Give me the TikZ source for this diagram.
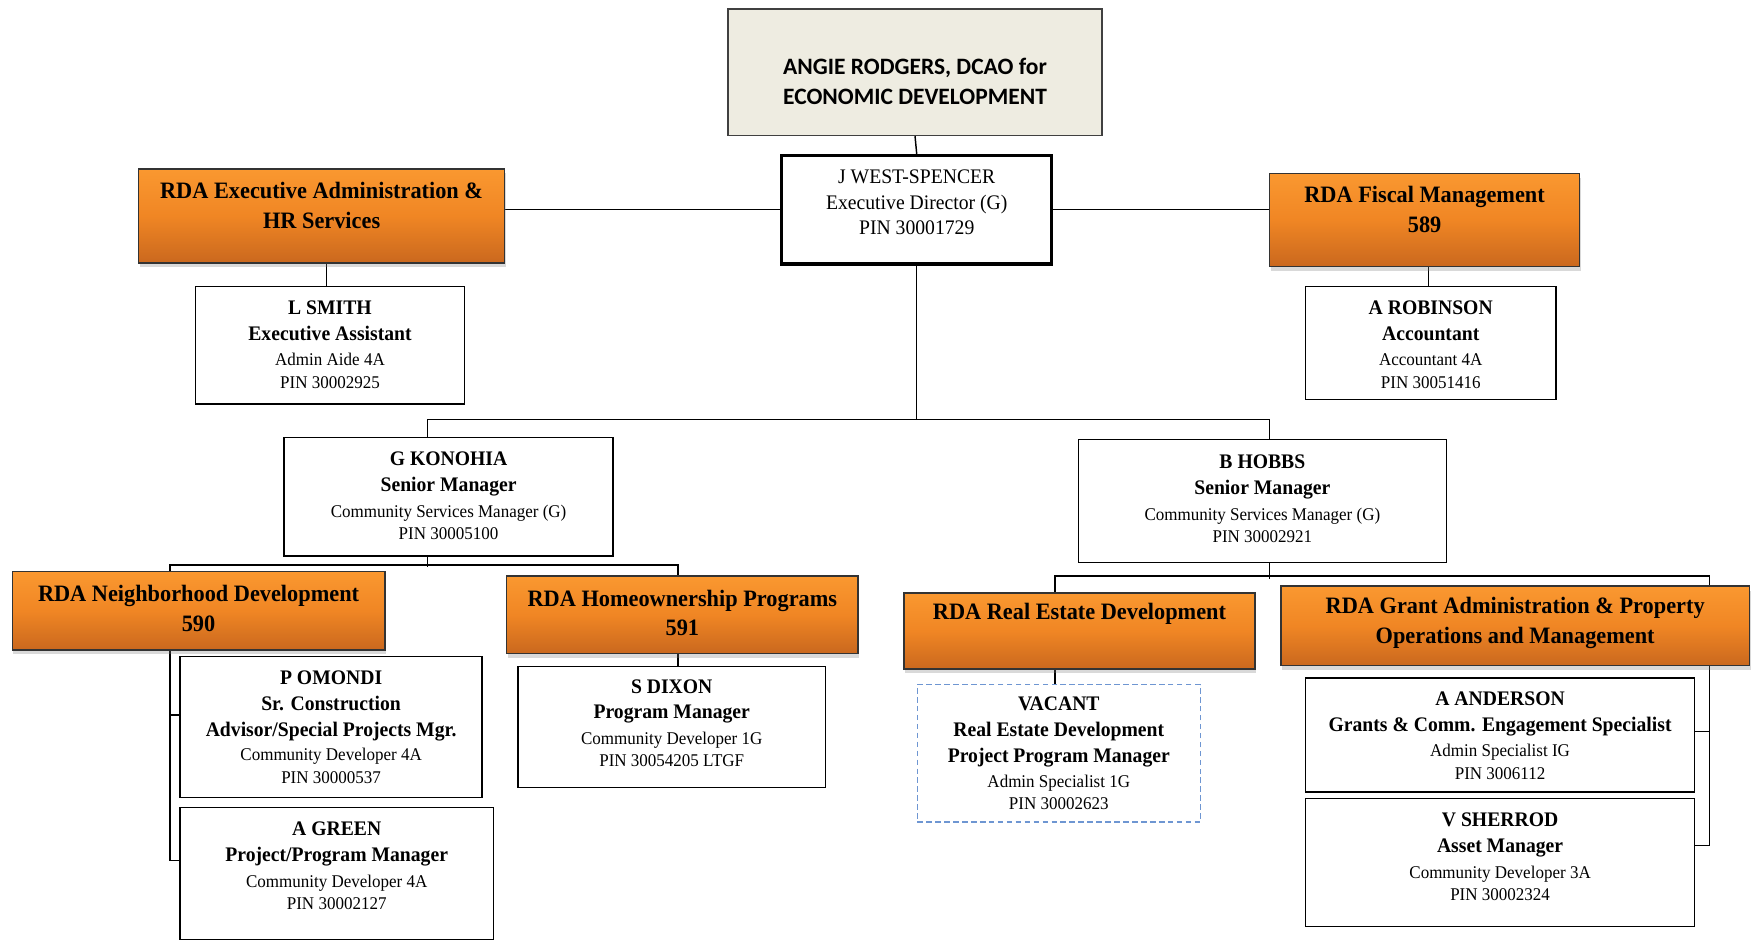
\documentclass[tikz,border=0pt]{standalone}
\usepackage{fontspec}
\setmainfont{Liberation Serif}[UprightFont={Liberation Serif}, BoldFont={Liberation Serif Bold}, ItalicFont={Liberation Serif Italic}, BoldItalicFont={Liberation Serif Bold Italic}, FakeStretch=0.95]
\newfontfamily\calib{Carlito}[BoldFont={Carlito Bold}]
\usetikzlibrary{shadows,backgrounds,calc}
\definecolor{orgtop}{RGB}{250,152,48}
\definecolor{orgmid}{RGB}{240,134,36}
\definecolor{orgbot}{RGB}{202,104,30}
\definecolor{beige}{RGB}{238,236,225}
\definecolor{vacblue}{RGB}{110,150,210}
\newcommand\sml[1]{{\fontsize{16}{20}\selectfont #1}}
\tikzset{
  conn/.style={draw=black, line width=1.3pt},
  wbox/.style={draw=black, line width=1.3pt, fill=white, inner sep=0pt},
  jbox/.style={draw=black, line width=2.8pt, fill=white, inner sep=0pt},
  gbox/.style={draw=black!75, line width=1.5pt, fill=beige, inner sep=0pt},
  vbox/.style={draw=vacblue, line width=1.3pt, dash pattern=on 5pt off 3pt, fill=white, inner sep=0pt},
  obox/.style={draw=black!80, line width=1.3pt, inner sep=0pt, top color=orgtop, bottom color=orgbot, middle color=orgmid,
     drop shadow={opacity=0.3, shadow xshift=1pt, shadow yshift=-4pt}},
  ptxt/.style={align=center, inner sep=0pt, font=\fontsize{18.5}{23}\selectfont},
  otxt/.style={align=center, inner sep=0pt, font=\fontsize{21}{26.5}\selectfont\bfseries},
  atxt/.style={align=center, inner sep=0pt, font=\calib\fontsize{21}{27}\selectfont\bfseries},
}
\begin{document}
\begin{tikzpicture}[x=1pt,y=-1pt]
\useasboundingbox (0,0) rectangle (1568,847);

% boxes
\node[gbox, minimum width=334pt, minimum height=113pt] (angie) at (818,64.5) {};
\node[atxt] (angiet) at (818,72.5) {ANGIE RODGERS, DCAO for\\ECONOMIC DEVELOPMENT};

\node[jbox, minimum width=241pt, minimum height=97pt] (jws) at (819.5,187.5) {};
\node[ptxt] (jwst) at (819.5,181) {J WEST-SPENCER\\Executive Director (G)\\PIN 30001729};

\node[obox, minimum width=327pt, minimum height=84pt] (exec) at (287.5,193) {};
\node[otxt] (exect) at (287.5,183.5) {RDA Executive Administration \&\\HR Services};

\node[obox, minimum width=277pt, minimum height=83pt] (fisc) at (1273.5,196.5) {};
\node[otxt] (fisct) at (1273.5,187.5) {RDA Fiscal Management\\589};

\node[wbox, minimum width=240pt, minimum height=105pt] (lsmith) at (295,308.5) {};
\node[ptxt] (lsmitht) at (295,308) {\textbf{L SMITH}\\\textbf{Executive Assistant}\\\sml{Admin Aide 4A}\\[-3pt]\sml{PIN 30002925}};

\node[wbox, minimum width=224pt, minimum height=101pt] (robin) at (1279,306.5) {};
\node[ptxt] (robint) at (1279,308) {\textbf{A ROBINSON}\\\textbf{Accountant}\\\sml{Accountant 4A}\\[-3pt]\sml{PIN 30051416}};

\node[wbox, minimum width=294pt, minimum height=106pt] (kon) at (401,444) {};
\node[ptxt] (kont) at (401,443.5) {\textbf{G KONOHIA}\\\textbf{Senior Manager}\\\sml{Community Services Manager (G)}\\[-3pt]\sml{PIN 30005100}};

\node[wbox, minimum width=329pt, minimum height=110pt] (hob) at (1128.5,448) {};
\node[ptxt] (hobt) at (1128.5,446) {\textbf{B HOBBS}\\\textbf{Senior Manager}\\\sml{Community Services Manager (G)}\\[-3pt]\sml{PIN 30002921}};

\node[obox, minimum width=333pt, minimum height=70pt] (neigh) at (177.5,546) {};
\node[otxt] (neight) at (177.5,544) {RDA Neighborhood Development\\590};

\node[obox, minimum width=314pt, minimum height=69pt] (home) at (610,549.5) {};
\node[otxt] (homet) at (610,548) {RDA Homeownership Programs\\591};

\node[wbox, minimum width=270pt, minimum height=126pt] (omon) at (296,650) {};
\node[ptxt] (omont) at (296,650) {\textbf{P OMONDI}\\\textbf{Sr. Construction}\\\textbf{Advisor/Special Projects Mgr.}\\[-1pt]\sml{Community Developer 4A}\\[-3pt]\sml{PIN 30000537}};

\node[wbox, minimum width=280pt, minimum height=118pt] (green) at (301,781) {};
\node[ptxt] (greent) at (301,774) {\textbf{A GREEN}\\\textbf{Project/Program Manager}\\\sml{Community Developer 4A}\\[-3pt]\sml{PIN 30002127}};

\node[wbox, minimum width=275pt, minimum height=108pt] (dixon) at (600.5,650) {};
\node[ptxt] (dixont) at (600.5,646.5) {\textbf{S DIXON}\\\textbf{Program Manager}\\\sml{Community Developer 1G}\\[-3pt]\sml{PIN 30054205 LTGF}};

\node[obox, minimum width=314pt, minimum height=68pt] (real) at (965,564) {};
\node[otxt] (realt) at (965,549) {RDA Real Estate Development};

\node[obox, minimum width=419pt, minimum height=71pt] (grant) at (1354.5,559.5) {};
\node[otxt] (grantt) at (1354.5,557) {RDA Grant Administration \& Property\\Operations and Management};

\node[vbox, minimum width=253pt, minimum height=123pt] (vac) at (946.5,673.5) {};
\node[ptxt] (vact) at (946.5,673.5) {\textbf{VACANT}\\\textbf{Real Estate Development}\\\textbf{Project Program Manager}\\[-1pt]\sml{Admin Specialist 1G}\\[-3pt]\sml{PIN 30002623}};

\node[wbox, minimum width=348pt, minimum height=102pt] (ander) at (1341,657) {};
\node[ptxt] (andert) at (1341,657.5) {\textbf{A ANDERSON}\\\textbf{Grants \& Comm. Engagement Specialist}\\\sml{Admin Specialist IG}\\[-3pt]\sml{PIN 3006112}};

\node[wbox, minimum width=348pt, minimum height=114pt] (sher) at (1341,771) {};
\node[ptxt] (shert) at (1341,766) {\textbf{V SHERROD}\\\textbf{Asset Manager}\\\sml{Community Developer 3A}\\[-3pt]\sml{PIN 30002324}};

% connectors
\begin{scope}[on background layer]
\draw[conn] (angie.south) -- (jws.north);
\draw[conn] (jws.west) -- (jws.west -| exec.east);
\draw[conn] (jws.east) -- (jws.east -| fisc.west);
\coordinate (lsT) at ([xshift=-3pt]lsmith.north);
\draw[conn] (lsT) -- (lsT |- exec.south);
\coordinate (rbT) at ([xshift=-2pt]robin.north);
\draw[conn] (rbT) -- (rbT |- fisc.south);
% bus 1
\coordinate (kT) at ([xshift=-19pt]kon.north);
\coordinate (hT) at ([xshift=6.5pt]hob.north);
\draw[conn] (jws.south) -- (jws.south |- 0,375);
\draw[conn] (kT) -- (kT |- 0,375) -- (hT |- 0,375) -- (hT);
% bus 2
\coordinate (kB) at ([xshift=-19pt]kon.south);
\coordinate (nT) at ([xshift=-25.5pt]neigh.north);
\coordinate (hoT) at ([xshift=-4pt]home.north);
\draw[conn] (kB) -- (kB |- 0,507);
\draw[conn] (nT) -- (nT |- 0,505) -- (hoT |- 0,505) -- (hoT);
\coordinate (nB) at ([xshift=-25.5pt]neigh.south);
\coordinate (omL) at ([yshift=11pt]omon.west);
\coordinate (grL) at ([yshift=12pt]green.west);
\draw[conn] (nB) |- (grL);
\draw[conn] (omL) -- (omL -| nB);
\coordinate (hoB) at ([xshift=-4pt]home.south);
\draw[conn] (hoB) -- (hoB |- dixon.north);
% bus 3
\coordinate (hbB) at ([xshift=6.5pt]hob.south);
\draw[conn] (hbB) -- (hbB |- 0,518);
\coordinate (rT) at ([xshift=-22pt]real.north);
\coordinate (gx) at (1528,515);
\coordinate (anR) at ([yshift=3pt]ander.east);
\coordinate (shR) at ([yshift=15pt]sher.east);
\draw[conn] (rT) |- (gx) |- (shR);
\draw[conn] (anR) -- (anR -| gx);
\coordinate (rB) at ([xshift=-22pt]real.south);
\draw[conn] (rB) -- (rB |- vac.north);
\end{scope}
\end{tikzpicture}
\end{document}
